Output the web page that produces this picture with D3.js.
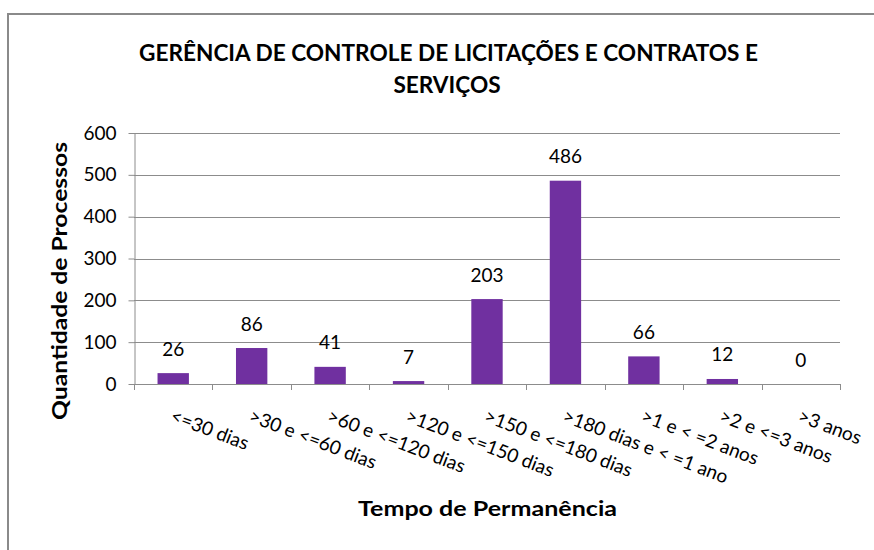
<!DOCTYPE html>
<html>
<head>
<meta charset="utf-8">
<script src="https://cdn.jsdelivr.net/npm/d3@7/dist/d3.min.js"></script>
<style>
  html, body { margin: 0; padding: 0; background: #fff; }
  svg { display: block; font-family: Lato, "Open Sans", sans-serif; }
</style>
</head>
<body>
<svg id="chart" width="874" height="550"></svg>
<script>
const categories = ["<=30 dias", ">30 e <=60 dias", ">60 e <=120 dias", ">120 e <=150 dias",
  ">150 e <=180 dias", ">180 dias e < =1 ano", ">1 e < =2 anos", ">2 e <=3 anos", ">3 anos"];
const values = [26, 86, 41, 7, 203, 486, 66, 12, 0];
const yTicks = [0, 100, 200, 300, 400, 500, 600];
const titleLines = ["GERÊNCIA DE CONTROLE DE LICITAÇÕES E CONTRATOS E", "SERVIÇOS"];
const xTitle = "Tempo de Permanência";
const yTitle = "Quantidade de Processos";

(function () {
const svg = d3.select("#chart");
const pLeft = 134, pRight = 840, pTop = 133, pBottom = 384;
const gridColor = "#8c8c8c";
const barColor = "#7030a0";
const labelSize = 19;

// chart border
svg.append("rect").attr("x", 8).attr("y", 14).attr("width", 900).attr("height", 600)
  .attr("fill", "#fff").attr("stroke", "#8a8a8a").attr("stroke-width", 2);

const x = d3.scaleBand().domain(categories).range([pLeft, pRight]).paddingInner(0.6).paddingOuter(0.3);
const y = d3.scaleLinear().domain([0, 600]).range([pBottom, pTop]);

// gridlines
svg.append("g").selectAll("line").data(yTicks.filter(d => d > 0)).join("line")
  .attr("x1", pLeft).attr("x2", pRight)
  .attr("y1", d => Math.round(y(d)) + 0.5).attr("y2", d => Math.round(y(d)) + 0.5)
  .attr("stroke", gridColor).attr("stroke-width", 1);

// y axis
const yAxis = svg.append("g").attr("transform", `translate(${pLeft + 0.5},0)`)
  .call(d3.axisLeft(y).tickValues(yTicks).tickSize(6).tickPadding(12).tickSizeOuter(0));
yAxis.select(".domain").attr("stroke", gridColor);
yAxis.selectAll(".tick line").attr("stroke", gridColor);
yAxis.selectAll(".tick text").attr("font-size", labelSize).attr("font-family", "Lato").attr("fill", "#000");

// bars
svg.append("g").selectAll("rect").data(values).join("rect")
  .attr("x", (d, i) => x(categories[i]))
  .attr("width", x.bandwidth())
  .attr("y", d => y(d))
  .attr("height", d => y(0) - y(d))
  .attr("fill", barColor);

// x axis
const xAxisG = svg.append("g");
xAxisG.append("line").attr("x1", pLeft).attr("x2", pRight)
  .attr("y1", pBottom + 0.5).attr("y2", pBottom + 0.5).attr("stroke", gridColor);
const boundaries = d3.range(categories.length + 1).map(i => pLeft + i * (pRight - pLeft) / categories.length);
xAxisG.selectAll("line.tk").data(boundaries).join("line").attr("class", "tk")
  .attr("x1", d => Math.round(d) + 0.5).attr("x2", d => Math.round(d) + 0.5)
  .attr("y1", pBottom).attr("y2", pBottom + 6).attr("stroke", gridColor);

// x tick labels (rotated)
xAxisG.selectAll("text").data(categories).join("text")
  .attr("transform", d => `translate(${x(d) + x.bandwidth() / 2 - 4},421) rotate(21)`)
  .attr("font-size", labelSize).attr("fill", "#000").text(d => d);

// value labels
svg.append("g").selectAll("text").data(values).join("text")
  .attr("x", (d, i) => x(categories[i]) + x.bandwidth() / 2)
  .attr("y", d => y(d) - 17.5)
  .attr("text-anchor", "middle").attr("font-size", labelSize).attr("fill", "#000")
  .text(d => d);

// titles: font size for height, compressed to the reference width
function squeeze(sel, ratio) {
  const len = sel.node().getComputedTextLength();
  sel.attr("textLength", len * ratio).attr("lengthAdjust", "spacingAndGlyphs");
}
const t1 = svg.append("text").attr("x", 448.5).attr("y", 61).attr("text-anchor", "middle")
  .attr("font-weight", "bold").attr("font-size", 23).attr("fill", "#000").text(titleLines[0]);
const r1 = 619 / t1.node().getComputedTextLength();
squeeze(t1, r1);
const t2 = svg.append("text").attr("x", 447).attr("y", 93).attr("text-anchor", "middle")
  .attr("font-weight", "bold").attr("font-size", 23).attr("fill", "#000").text(titleLines[1]);
squeeze(t2, r1);

const xt = svg.append("text").attr("x", 487.5).attr("y", 516).attr("text-anchor", "middle")
  .attr("font-weight", "bold").attr("font-size", 20).attr("fill", "#000").text(xTitle);
squeeze(xt, 259 / xt.node().getComputedTextLength());

const yt = svg.append("text").attr("transform", "translate(67,281) rotate(-90)")
  .attr("text-anchor", "middle").attr("font-weight", "bold").attr("font-size", 20)
  .attr("fill", "#000").text(yTitle);
squeeze(yt, 278 / yt.node().getComputedTextLength());
})();
</script>
</body>
</html>
